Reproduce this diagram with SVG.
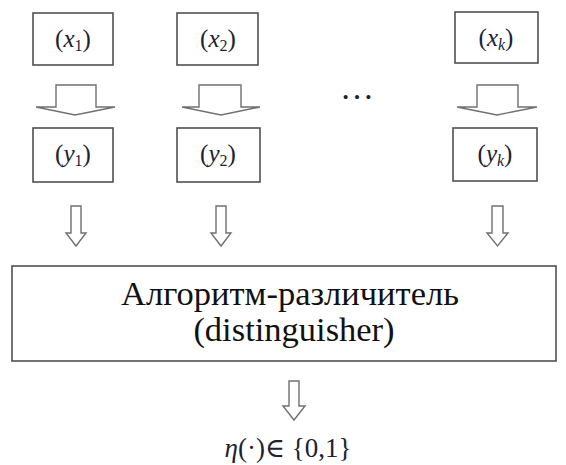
<svg xmlns="http://www.w3.org/2000/svg" width="566" height="465" viewBox="0 0 566 465">
<style>
.box{fill:#fff;stroke:#505050;stroke-width:1.6}
.arr{fill:#fff;stroke:#707070;stroke-width:1.4;stroke-linejoin:miter}
.m{font-family:'Liberation Serif','Times New Roman',Tinos,'DejaVu Serif','Noto Serif',serif;fill:#1c2233;font-size:25px;text-anchor:middle}
.i{font-style:italic}
.sub{font-size:16px}
.big{font-family:'Liberation Serif','Times New Roman',Tinos,'DejaVu Serif','Noto Serif',serif;fill:#111;font-size:34.5px;text-anchor:middle}
</style>
<rect width="566" height="465" fill="#fff"/>
<g id="x1"><rect class="box" x="33" y="13" width="80" height="52"/><text class="m" x="73" y="47">(<tspan class="i">x</tspan><tspan class="sub" dy="4">1</tspan><tspan dy="-4">)</tspan></text></g>
<g id="x2"><rect class="box" x="177" y="13" width="81" height="52"/><text class="m" x="218" y="47">(<tspan class="i">x</tspan><tspan class="sub" dy="4">2</tspan><tspan dy="-4">)</tspan></text></g>
<g id="xk"><rect class="box" x="455" y="12" width="83" height="51"/><text class="m" x="496" y="46">(<tspan class="i">x</tspan><tspan class="sub i" dy="4">k</tspan><tspan dy="-4">)</tspan></text></g>
<g id="y1"><rect class="box" x="33" y="128" width="80" height="54"/><text class="m" x="73" y="162">(<tspan class="i">y</tspan><tspan class="sub" dy="4">1</tspan><tspan dy="-4">)</tspan></text></g>
<g id="y2"><rect class="box" x="177" y="128" width="83" height="54"/><text class="m" x="218" y="162">(<tspan class="i">y</tspan><tspan class="sub" dy="4">2</tspan><tspan dy="-4">)</tspan></text></g>
<g id="yk"><rect class="box" x="453" y="128" width="84" height="53"/><text class="m" x="495" y="162">(<tspan class="i">y</tspan><tspan class="sub i" dy="4">k</tspan><tspan dy="-4">)</tspan></text></g>
<g id="dots"><text class="m" x="357" y="99" style="font-size:34px">…</text></g>
<g id="distinguisher"><rect class="box" x="12" y="266" width="544" height="95"/><text class="big" x="290" y="305">Алгоритм-различитель</text><text class="big" x="294" y="341">(distinguisher)</text></g>
<g id="output"><text class="m" x="288" y="457" style="font-size:27px"><tspan class="i">η</tspan>(·)∈ {0,1}</text></g>
<g id="connectors">
<polygon class="arr" points="56,85 96,85 96,107 115,107 75,115 36,107 56,107"/>
<polygon class="arr" points="199,85 241,85 241,107 260,107 221,115 182,107 199,107"/>
<polygon class="arr" points="477,85 518,85 518,107 537,107 497,115 457,107 477,107"/>
<polygon class="arr" points="71,206 81,206 81,233 86,233 76,246 66,233 71,233"/>
<polygon class="arr" points="216,206 226,206 226,233 231,233 221,246 211,233 216,233"/>
<polygon class="arr" points="492,206 503,206 503,233 508,233 497.5,246 487,233 492,233"/>
<polygon class="arr" points="289,381 299,381 299,406 305,406 294,420 283,406 289,406"/>
</g>
</svg>
